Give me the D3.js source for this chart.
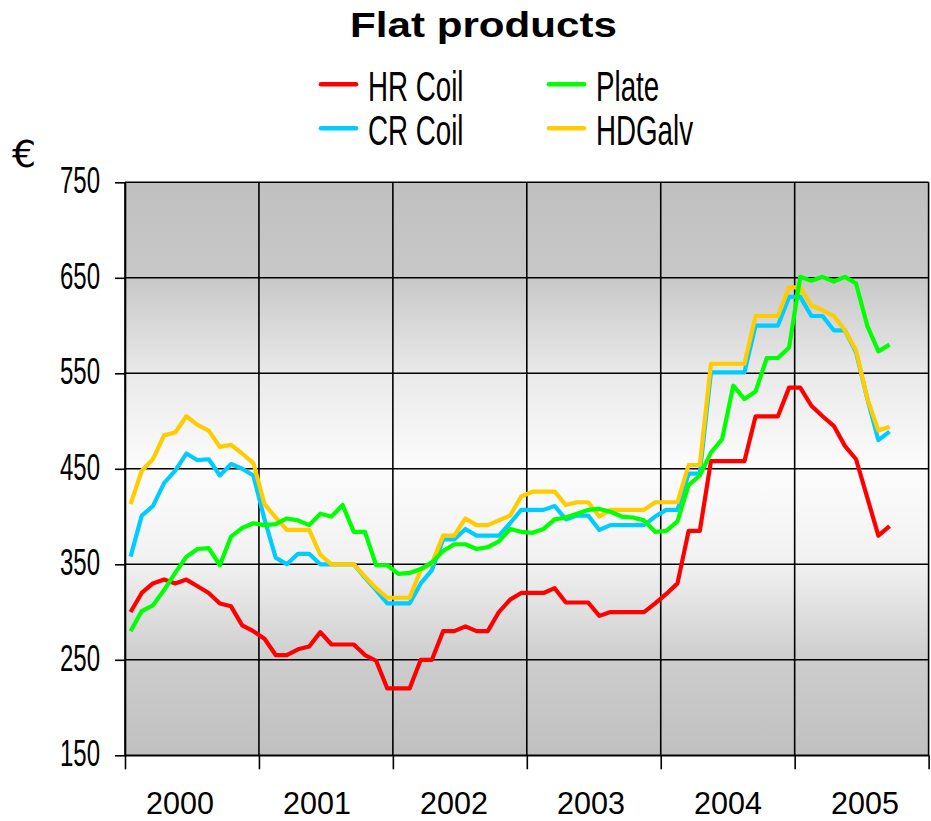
<!DOCTYPE html>
<html><head><meta charset="utf-8">
<script src="https://cdn.jsdelivr.net/npm/d3@7"></script>
<style>body{margin:0;background:#fff} svg{display:block}</style>
</head><body><svg id="c" width="931" height="821"></svg>
<script>
// ---- data ----
const years = [2000, 2001, 2002, 2003, 2004, 2005];
const yTicks = [150, 250, 350, 450, 550, 650, 750];
const seriesNames = ["HR Coil", "CR Coil", "Plate", "HDGalv"];
const seriesColors = ["#ff0000", "#00ccff", "#00ff00", "#ffcc00"];
// monthly values, Jan 2000 .. Sep 2005
const hrCoil = [300,320,330,334,330,334,327,320,309,306,286,280,
                272,255,255,261,264,279,266,266,266,255,249,220,
                220,220,250,250,280,280,285,280,280,300,313,320,
                320,320,325,310,310,310,296,300,300,300,300,309,
                319,330,385,385,458,458,458,458,505,505,505,535,
                535,516,505,495,474,460,420,380,390];
const crCoil = [358,401,411,435,448,466,459,460,443,455,450,443,
                397,357,350,361,361,350,350,350,350,336,323,309,
                309,309,330,344,376,376,387,380,380,380,393,407,
                407,407,411,397,401,401,386,391,391,391,391,400,
                407,407,445,445,551,551,551,551,600,600,600,630,
                630,610,610,595,595,572,524,480,489];
const plate = [280,301,307,323,341,358,366,367,349,379,388,393,
               391,392,398,396,391,403,400,412,384,384,349,349,
               340,341,345,352,364,371,371,366,368,374,387,384,
               383,387,397,399,403,407,408,405,400,399,396,384,
               385,395,433,443,467,481,537,523,531,566,566,577,
               651,647,651,646,651,644,600,573,580];
const hdGalv = [413,448,460,485,488,505,496,490,473,475,466,456,
                413,399,386,386,386,360,350,350,350,337,325,315,
                315,315,344,351,380,380,398,391,391,396,401,421,
                426,426,426,412,415,415,400,407,407,407,407,415,
                415,415,454,454,560,560,560,560,610,610,610,640,
                640,621,616,610,595,574,524,490,494];
const seriesValues = [hrCoil, crCoil, plate, hdGalv];
const drawOrder = [0, 1, 3, 2];

// ---- layout ----
const svg = d3.select("#c");
const x = d3.scaleLinear().domain([0, 72]).range([125, 928.6]);
const y = d3.scaleLinear().domain([150, 750]).range([755.3, 182.3]);
const yearLabelX = d3.scaleLinear().domain([2000, 2005]).range([180, 865]);
const monthTicks = d3.range(0, 73, 12);

// background gradient
const defs = svg.append("defs");
const grad = defs.append("linearGradient").attr("id", "bg")
  .attr("x1", 0).attr("y1", 0).attr("x2", 0).attr("y2", 1);
[[0, "#c0c0c0"], [0.167, "#c8c8c8"], [0.333, "#e9e9e9"], [0.5, "#fcfcfc"],
 [0.667, "#f1f1f1"], [0.833, "#cdcdcd"], [1, "#c0c0c0"]].forEach(([o, c]) =>
  grad.append("stop").attr("offset", o).attr("stop-color", c));

svg.append("rect")
  .attr("x", x(0)).attr("y", y(750))
  .attr("width", x(72) - x(0)).attr("height", y(150) - y(750))
  .attr("fill", "url(#bg)");

// grid
svg.append("g").selectAll("line").data(yTicks).join("line")
  .attr("x1", x(0)).attr("x2", x(72))
  .attr("y1", d => y(d)).attr("y2", d => y(d))
  .attr("stroke", "#000").attr("stroke-width", 1.6);
svg.append("g").selectAll("line").data(monthTicks).join("line")
  .attr("x1", d => x(d)).attr("x2", d => x(d))
  .attr("y1", y(750)).attr("y2", y(150))
  .attr("stroke", "#000").attr("stroke-width", 1.6);

// axes (ticks)
const gy = svg.append("g").attr("transform", `translate(${x(0)},0)`)
  .call(d3.axisLeft(y).tickValues(yTicks).tickSize(10).tickSizeOuter(0).tickFormat(""));
const gx = svg.append("g").attr("transform", `translate(0,${y(150)})`)
  .call(d3.axisBottom(x).tickValues(monthTicks).tickSize(14).tickSizeOuter(0).tickFormat(""));
[gy, gx].forEach(g => {
  g.selectAll("line").attr("stroke", "#000").attr("stroke-width", 1.6);
  g.select(".domain").attr("stroke", "#000").attr("stroke-width", 1.6);
});

// y tick labels (condensed)
svg.append("g").selectAll("g").data(yTicks).join("g")
  .attr("transform", d => `translate(100,${y(d) + 11}) scale(0.64,1)`)
  .append("text")
  .attr("text-anchor", "end")
  .attr("font-family", "Liberation Sans, Arial, sans-serif")
  .attr("font-size", 37.5)
  .attr("fill", "#000")
  .text(d => d);

// year labels
svg.append("g").selectAll("text").data(years).join("text")
  .attr("x", d => yearLabelX(d)).attr("y", 814)
  .attr("text-anchor", "middle")
  .attr("font-family", "Liberation Sans, Arial, sans-serif")
  .attr("font-size", 30.5)
  .attr("fill", "#000")
  .text(d => d);

// euro sign
svg.append("text").attr("x", 12).attr("y", 166.5)
  .attr("font-family", "DejaVu Sans, sans-serif").attr("font-size", 38)
  .attr("fill", "#000").text("€");

// title
svg.append("g").attr("transform", "translate(483.5,37.3) scale(1.225,1)")
  .append("text").attr("text-anchor", "middle")
  .attr("font-family", "Liberation Sans, Arial, sans-serif")
  .attr("font-weight", "bold").attr("font-size", 34.4)
  .attr("fill", "#000").text("Flat products");

// lines
const line = d3.line().x((d, i) => x(i + 0.5)).y(d => y(d));
svg.append("g").selectAll("path").data(drawOrder).join("path")
  .attr("d", k => line(seriesValues[k]))
  .attr("fill", "none")
  .attr("stroke", k => seriesColors[k])
  .attr("stroke-width", 4.2)
  .attr("stroke-linejoin", "round");

// legend
const legendCols = [319, 547];
const legendRows = [84.3, 128.3];
const leg = svg.append("g").selectAll("g").data(seriesNames).join("g")
  .attr("transform", (d, i) => `translate(${legendCols[i % 2 === 0 ? 0 : 0]},0)`);
const legItems = seriesNames.map((name, i) => ({
  name, color: seriesColors[i],
  col: (name === "Plate" || name === "HDGalv") ? 1 : 0,
  row: (name === "CR Coil" || name === "HDGalv") ? 1 : 0
}));
leg.remove();
const li = svg.append("g").selectAll("g").data(legItems).join("g")
  .attr("transform", d => `translate(${legendCols[d.col]},${legendRows[d.row]})`);
li.append("line").attr("x1", 2).attr("x2", 37).attr("y1", 0).attr("y2", 0)
  .attr("stroke", d => d.color).attr("stroke-width", 4.6).attr("stroke-linecap", "round");
li.append("g").attr("transform", "translate(49,16.5) scale(0.66,1)")
  .append("text")
  .attr("font-family", "Liberation Sans, Arial, sans-serif")
  .attr("font-size", 42).attr("fill", "#000")
  .text(d => d.name);
</script>
</body></html>
